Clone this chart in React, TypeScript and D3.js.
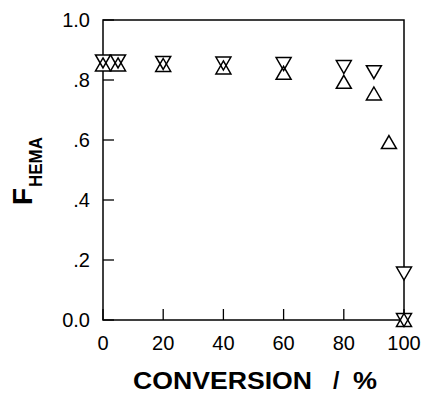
import React from "react";
import * as d3 from "d3";

// conversion (%) for each marker
const upX = [0, 5, 20, 40, 60, 80, 90, 95, 100];
const upF = [0.852, 0.852, 0.85, 0.842, 0.824, 0.794, 0.755, 0.593, 0.0];
const downX = [0, 5, 20, 40, 60, 80, 90, 100, 100];
const downF = [0.862, 0.862, 0.857, 0.855, 0.853, 0.843, 0.826, 0.155, 0.0];

const xTicks = [0, 20, 40, 60, 80, 100];
const yTicks = [0, 0.2, 0.4, 0.6, 0.8, 1.0];
const yTickLabels = ["0.0", ".2", ".4", ".6", ".8", "1.0"];

const W = 425;
const H = 395;
const font = "'Liberation Sans', Arial, Helvetica, sans-serif";

const x = d3.scaleLinear().domain([0, 100]).range([103, 404]);
const y = d3.scaleLinear().domain([0, 1]).range([320, 20]);

const triW = 15;
const triH = 13;

function tri(cx: number, cy: number, up: boolean) {
  const p = d3.path();
  if (up) {
    p.moveTo(cx, cy - triH / 2);
    p.lineTo(cx + triW / 2, cy + triH / 2);
    p.lineTo(cx - triW / 2, cy + triH / 2);
  } else {
    p.moveTo(cx, cy + triH / 2);
    p.lineTo(cx + triW / 2, cy - triH / 2);
    p.lineTo(cx - triW / 2, cy - triH / 2);
  }
  p.closePath();
  return p.toString();
}

export default function App() {
  const markers = [
    ...downX.map((v, i) => tri(x(v), y(downF[i]), false)),
    ...upX.map((v, i) => tri(x(v), y(upF[i]), true)),
  ];
  const [x0, x1] = x.range();
  const [y0, y1] = y.range();

  return (
    <svg width={W} height={H} style={{ position: "absolute", left: 0, top: 0, background: "#fff" }}>
      {/* frame */}
      <rect x={x0} y={y1} width={x1 - x0} height={y0 - y1} fill="none" stroke="#000" strokeWidth={1.5} />

      {/* y ticks */}
      {yTicks.map((t, i) => (
        <g key={"y" + i}>
          <line x1={x0} x2={x0 + 11} y1={y(t)} y2={y(t)} stroke="#000" strokeWidth={1.3} />
          <text x={90} y={y(t)} dy="0.36em" textAnchor="end" fontFamily={font} fontSize={20}>
            {yTickLabels[i]}
          </text>
        </g>
      ))}

      {/* x ticks */}
      {xTicks.map((t) => (
        <g key={"x" + t}>
          <line x1={x(t)} x2={x(t)} y1={y0} y2={y0 - 11} stroke="#000" strokeWidth={1.3} />
          <text x={x(t)} y={350} textAnchor="middle" fontFamily={font} fontSize={20}>
            {t}
          </text>
        </g>
      ))}

      {/* markers: white fill first, then outlines */}
      {markers.map((d, i) => (
        <path key={"f" + i} d={d} fill="#fff" stroke="none" />
      ))}
      {markers.map((d, i) => (
        <path key={"s" + i} d={d} fill="none" stroke="#000" strokeWidth={1.5} strokeLinejoin="miter" />
      ))}

      {/* x title */}
      <g fontFamily={font} fontSize={23} fontWeight="bold">
        <text x={133} y={389} textLength={179} lengthAdjust="spacingAndGlyphs">
          CONVERSION
        </text>
        <text x={333} y={389}>/</text>
        <text x={353} y={389} textLength={24} lengthAdjust="spacingAndGlyphs">
          %
        </text>
      </g>

      {/* y title */}
      <g transform="translate(32,205) rotate(-90)">
        <text x={0} y={0} fontFamily={font} fontSize={28} fontWeight="bold">
          F
        </text>
        <text x={18} y={10} fontFamily={font} fontSize={19} fontWeight="bold" textLength={50} lengthAdjust="spacingAndGlyphs">
          HEMA
        </text>
      </g>
    </svg>
  );
}
